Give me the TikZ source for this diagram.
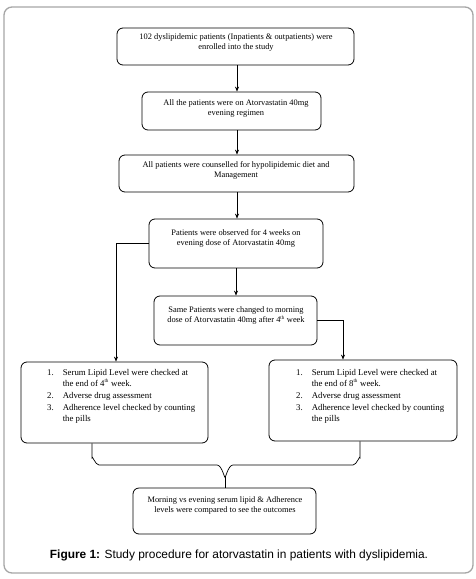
\documentclass[tikz,border=0pt]{standalone}
\usepackage{fontspec}
\setmainfont{Liberation Serif}
\newfontfamily\capfont{Liberation Sans}
\usetikzlibrary{arrows.meta,calc}
\begin{document}
\begin{tikzpicture}[x=1pt,y=-1pt,
  box/.style={draw,line width=0.8pt,rounded corners=6pt,inner sep=0pt},
  lbl/.style={align=center,inner sep=0pt,font=\fontsize{8.4}{10}\selectfont},
  lst/.style={inner sep=0pt,anchor=base west,font=\fontsize{8.8}{10}\selectfont},
  arr/.style={line width=0.7pt,-{Stealth[length=5pt,width=4pt]}},
  brc/.style={line width=0.7pt}]
\useasboundingbox (0,0) rectangle (476,579);
\draw[line width=1.3pt,color=black!35,rounded corners=8pt] (4,7) rectangle (473,573);
% boxes
\node[box,minimum width=237pt,minimum height=37pt] (b1) at (235.5,46.5) {};
\node[box,minimum width=179pt,minimum height=38pt] (b2) at (231.5,111) {};
\node[box,minimum width=235pt,minimum height=37pt] (b3) at (236.5,173.5) {};
\node[box,minimum width=174pt,minimum height=49pt] (b4) at (236,243.5) {};
\node[box,minimum width=163pt,minimum height=49pt] (b5) at (235.5,320.5) {};
\node[box,minimum width=187pt,minimum height=81pt] (b6) at (114.5,402.5) {};
\node[box,minimum width=188pt,minimum height=81pt] (b7) at (363,400.5) {};
\node[box,minimum width=183pt,minimum height=46pt] (b8) at (224.5,511) {};
% texts
\node[lbl] (t1) at (236,42.5) {102 dyslipidemic patients (Inpatients \& outpatients) were\\enrolled into the study};
\node[lbl] (t2) at (236,108) {All the patients were on Atorvastatin 40mg\\evening regimen};
\node[lbl] (t3) at (236,170) {All patients were counselled for hypolipidemic diet and\\Management};
\node[lbl] (t4) at (236,238) {Patients were observed for 4 weeks on\\evening dose of Atorvastatin 40mg};
\node[lbl] (t5) at (236,315) {Same Patients were changed to morning\\dose of Atorvastatin 40mg after 4\textsuperscript{\fontsize{5}{5}\selectfont th} week};
\node[lbl] (t8) at (225,505.5) {Morning vs evening serum lipid \& Adherence\\levels were compared to see the outcomes};
\renewcommand\arraystretch{1.17}
\node[lst] (t6) at (47,375) {\begin{tabular}[t]{@{}l@{\hspace{9pt}}l@{}}1. & Serum Lipid Level were checked at\\ & the end of 4\textsuperscript{\fontsize{5}{5}\selectfont th} week.\\2. & Adverse drug assessment\\3. & Adherence level checked by counting\\ & the pills\end{tabular}};
\node[lst] (t7) at (296,375) {\begin{tabular}[t]{@{}l@{\hspace{9pt}}l@{}}1. & Serum Lipid Level were checked at\\ & the end of 8\textsuperscript{\fontsize{5}{5}\selectfont th} week.\\2. & Adverse drug assessment\\3. & Adherence level checked by counting\\ & the pills\end{tabular}};
% caption
\node[inner sep=0pt,font=\capfont\fontsize{11.9}{13}\selectfont] (cap) at (239,555) {\textbf{Figure 1:} Study procedure for atorvastatin in patients with dyslipidemia.};
% arrows
\draw[arr] (b1.south -| 237,0) -- (b2.north -| 237,0);
\draw[arr] (b2.south -| 237,0) -- (b3.north -| 237,0);
\draw[arr] (b3.south -| 237,0) -- (b4.north -| 237,0);
\draw[arr] (b4.south) -- (b5.north -| b4.south);
\draw[arr] (b4.west) -| (b6.north -| 116,0);
\coordinate (r7) at ($(b7.north)+(-20,0)$);
\draw[arr] (b5.east) -| (r7);
% brace
\coordinate (l6) at (b6.south -| 92,0);
\coordinate (l7) at (b7.south -| 360,0);
\coordinate (tip) at (225,476);
\draw[brc] (l6) -- (92,458) to[out=90,in=180] (99,465) -- (217,465) to[out=0,in=-90] (tip);
\draw[brc] (l7) -- (360,458) to[out=90,in=0] (353,465) -- (233,465) to[out=180,in=-90] (tip);
\draw[brc] (tip) -- (b8.north -| tip);
\end{tikzpicture}
\end{document}
